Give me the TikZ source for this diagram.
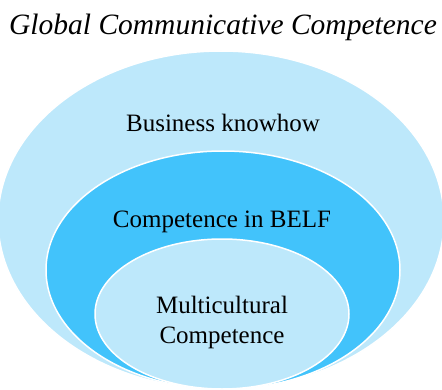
\documentclass[tikz,border=0pt]{standalone}
\usepackage{fontspec}
\setmainfont{Liberation Serif}
\definecolor{paleblue}{HTML}{BDE8FB}
\definecolor{brightblue}{HTML}{42C3FB}
\tikzset{
  ring/.style={draw=white, line width=1.5pt},
  label/.style={font=\fontsize{25}{30}\selectfont, text=black, align=center, anchor=base, inner sep=0pt},
  heading/.style={font=\fontsize{29.5}{34}\selectfont\itshape, text=black, anchor=base, inner sep=0pt}
}
\begin{document}
\begin{tikzpicture}[x=1pt,y=1pt]
  \useasboundingbox (0,0) rectangle (442,389);
  \begin{scope}
    \clip (0,0) rectangle (442,389);
    \fill[paleblue, ring] (221,169) ellipse [x radius=223, y radius=169];
    \fill[brightblue, ring] (223,119) ellipse [x radius=177, y radius=119];
    \fill[paleblue, ring] (222,75) ellipse [x radius=127, y radius=75];
  \end{scope}
  \node[heading] (title) at (223,354) {Global Communicative Competence};
  \node[label] (outer) at (223,257) {Business knowhow};
  \node[label] (middle) at (222,162) {Competence in BELF};
  % base anchor of a two-line node sits on the last line
  \node[label] (inner) at (222,46) {Multicultural\\Competence};
\end{tikzpicture}
\end{document}
